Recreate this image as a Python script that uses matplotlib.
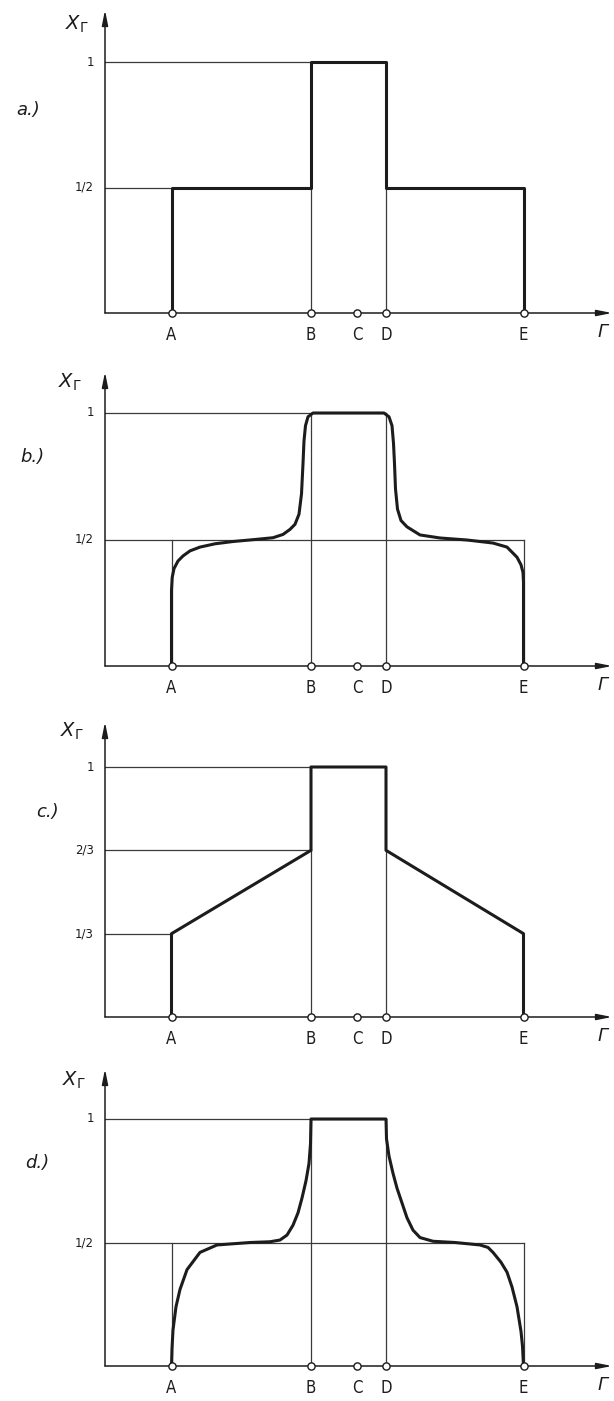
import matplotlib
matplotlib.use("Agg")
import matplotlib.pyplot as plt

plt.rcParams['font.family'] = ['DejaVu Sans']
plt.rcParams['mathtext.fontset'] = 'dejavusans'

W, H = 614, 1401

# Positions of the characteristic points along the Gamma axis
point_names = ["A", "B", "C", "D", "E"]
point_pos = [6.65, 20.6, 25.2, 28.1, 41.85]
A, B, C, D, E = point_pos
x_end = 50.7

# (a) ideal step profile
a_x = [A, A, B, B, D, D, E, E]
a_y = [0, 0.5, 0.5, 1.0, 1.0, 0.5, 0.5, 0]
a_ticks = [1.0, 0.5]
a_ticklabels = ["1", "1/2"]

# (b) smoothed profile
b_x = [A, A, 6.72, 6.9, 7.3, 7.8, 8.5, 9.5, 11.0, 12.8, 15.0, 16.8, 17.8, 18.5,
       19.0, 19.4, 19.65, 19.8, 19.9, 20.05, 20.3, 20.8,
       27.9, 28.4, 28.7, 28.85, 28.95, 29.05, 29.25, 29.6, 30.2, 31.5, 33.5, 36.2,
       38.8, 40.2, 41.2, 41.6, 41.8, E, E]
b_y = [0, 0.3, 0.35, 0.385, 0.415, 0.435, 0.455, 0.47, 0.483, 0.492, 0.5, 0.507,
       0.52, 0.54, 0.56, 0.6, 0.68, 0.8, 0.89, 0.95, 0.985, 1.0,
       1.0, 0.985, 0.95, 0.88, 0.8, 0.7, 0.62, 0.575, 0.55, 0.518, 0.506, 0.498,
       0.486, 0.47, 0.43, 0.4, 0.37, 0.33, 0]
b_ticks = [1.0, 0.5]
b_ticklabels = ["1", "1/2"]

# (c) linear profile
c_x = [A, A, B, B, D, D, E, E]
c_y = [0, 1/3, 2/3, 1.0, 1.0, 2/3, 1/3, 0]
c_ticks = [1.0, 2/3, 1/3]
c_ticklabels = ["1", "2/3", "1/3"]

# (d) smoothed profile with steep edges
d_x = [A, 6.7, 6.8, 7.1, 7.5, 8.2, 9.5, 11.2, 14.5, 16.5, 17.5, 18.2, 18.8,
       19.3, 19.7, 20.1, 20.4, 20.55, 20.6,
       D, 28.15, 28.4, 28.8, 29.2, 29.7, 30.2, 30.8, 31.5, 32.8, 35.0, 37.5,
       38.3, 38.8, 39.6, 40.2, 40.7, 41.2, 41.6, 41.75, E]
d_y = [0, 0.07, 0.146, 0.24, 0.31, 0.39, 0.46, 0.49, 0.5, 0.503, 0.51, 0.53, 0.57,
       0.62, 0.68, 0.75, 0.82, 0.9, 1.0,
       1.0, 0.92, 0.85, 0.78, 0.72, 0.66, 0.6, 0.55, 0.52, 0.505, 0.5, 0.49,
       0.48, 0.46, 0.42, 0.38, 0.32, 0.24, 0.14, 0.08, 0]
d_ticks = [1.0, 0.5]
d_ticklabels = ["1", "1/2"]

# panel layout in pixels: x-axis row, row of value 1, arrow tip
panels = [
    dict(tag="a.)", x=a_x, y=a_y, ticks=a_ticks, labels=a_ticklabels,
         y0=313, y1=62, tip=10, tagpos=(28, 110), ylab=(77, 24)),
    dict(tag="b.)", x=b_x, y=b_y, ticks=b_ticks, labels=b_ticklabels,
         y0=666, y1=413, tip=372, tagpos=(32, 457), ylab=(70, 382)),
    dict(tag="c.)", x=c_x, y=c_y, ticks=c_ticks, labels=c_ticklabels,
         y0=1017, y1=767, tip=722, tagpos=(47, 812), ylab=(72, 731)),
    dict(tag="d.)", x=d_x, y=d_y, ticks=d_ticks, labels=d_ticklabels,
         y0=1366, y1=1119, tip=1069, tagpos=(37, 1163), ylab=(74, 1080)),
]

ink = "#1c1c1c"
thin = "#3a3a3a"

fig = plt.figure(figsize=(W / 100, H / 100), dpi=100)
fig.patch.set_facecolor("white")

left_px, right_px = 105, 612

for i, p in enumerate(panels):
    unit = p["y0"] - p["y1"]
    ymax = (p["y0"] - p["tip"]) / unit
    ax = fig.add_axes([left_px / W, 1 - p["y0"] / H,
                       (right_px - left_px) / W, (p["y0"] - p["tip"]) / H])
    ax.set_xlim(0, x_end)
    ax.set_ylim(0, ymax)
    ax.axis("off")

    lw_thin = 0.9
    # guide lines
    if i == 0:
        ax.plot([0, B], [1, 1], color=thin, lw=lw_thin)
        ax.plot([0, A], [0.5, 0.5], color=thin, lw=lw_thin)
        ax.plot([B, B], [0, 0.5], color=thin, lw=lw_thin)
        ax.plot([D, D], [0, 0.5], color=thin, lw=lw_thin)
    elif i == 2:
        ax.plot([0, B], [1, 1], color=thin, lw=lw_thin)
        ax.plot([0, B], [2/3, 2/3], color=thin, lw=lw_thin)
        ax.plot([0, A], [1/3, 1/3], color=thin, lw=lw_thin)
        ax.plot([B, B], [0, 2/3], color=thin, lw=lw_thin)
        ax.plot([D, D], [0, 2/3], color=thin, lw=lw_thin)
    else:
        ax.plot([0, D], [1, 1], color=thin, lw=lw_thin)
        ax.plot([0, E], [0.5, 0.5], color=thin, lw=lw_thin)
        ax.plot([A, A], [0, 0.5], color=thin, lw=lw_thin)
        ax.plot([E, E], [0, 0.5], color=thin, lw=lw_thin)
        ax.plot([B, B], [0, 1], color=thin, lw=lw_thin)
        ax.plot([D, D], [0, 1], color=thin, lw=lw_thin)

    # coordinate axes with arrowheads
    arrow = dict(arrowstyle="-|>,head_length=0.9,head_width=0.18",
                 color=ink, lw=1.1, shrinkA=0, shrinkB=0)
    ax.annotate("", xy=(0, ymax), xytext=(0, 0), arrowprops=arrow,
                annotation_clip=False)
    ax.annotate("", xy=(x_end, 0), xytext=(0, 0), arrowprops=arrow,
                annotation_clip=False)

    # profile
    ax.plot(p["x"], p["y"], color=ink, lw=2.2, solid_joinstyle="round",
            solid_capstyle="round", zorder=4)

    # characteristic points
    ax.plot(point_pos, [0] * len(point_pos), "o", ms=5.2, mfc="white",
            mec=ink, mew=1.0, zorder=6, clip_on=False)

    for name, xp in zip(point_names, point_pos):
        ax.annotate(name, xy=(xp, 0), xytext=(0, -15.5), textcoords="offset points",
                    ha="center", va="center", fontsize=12, color=ink,
                    fontstretch="condensed", annotation_clip=False)
    ax.annotate("Γ", xy=(49.8, 0), xytext=(0, -14), textcoords="offset points",
                ha="center", va="center", fontsize=13, color=ink,
                fontstyle="italic", annotation_clip=False)

    for val, lab in zip(p["ticks"], p["labels"]):
        ax.annotate(lab, xy=(0, val), xytext=(-8, 0), textcoords="offset points",
                    ha="right", va="center", fontsize=8.5, color=ink,
                    annotation_clip=False)

    fig.text(p["tagpos"][0] / W, 1 - p["tagpos"][1] / H, p["tag"],
             ha="center", va="center", fontsize=13, fontstyle="italic", color=ink)
    fig.text(p["ylab"][0] / W, 1 - p["ylab"][1] / H, r"$X_{\mathit{\Gamma}}$",
             ha="center", va="center", fontsize=14, color=ink)

fig.savefig("out.png", dpi=100, facecolor="white")
